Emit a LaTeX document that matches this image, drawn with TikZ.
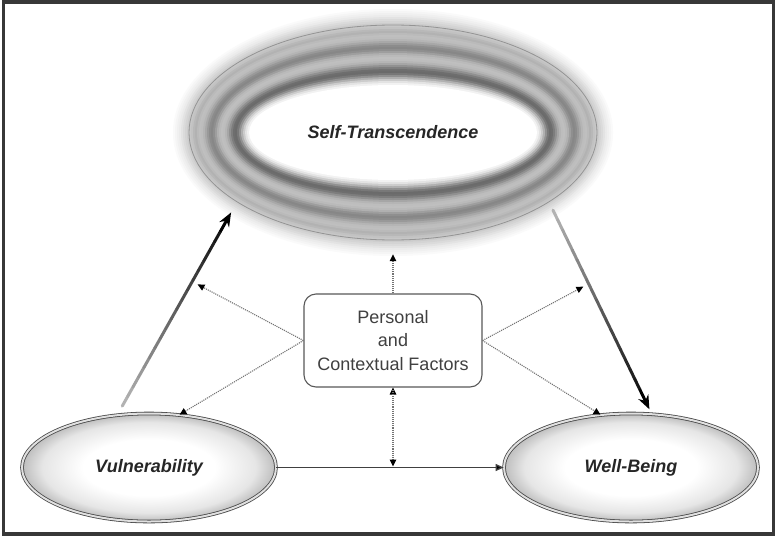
\documentclass[tikz,border=0pt]{standalone}
\usepackage{fontspec}
\setmainfont{Liberation Sans}
\usetikzlibrary{calc, arrows.meta, positioning, shapes}

\pgfdeclareradialshading{ovalshade}{\pgfpointorigin}{color(0bp)=(white); color(13bp)=(white); color(21bp)=(black!10); color(25bp)=(black!26); color(50bp)=(black!26)}

\begin{document}
\begin{tikzpicture}[x = 1pt, y = -1pt, >=latex, font = \fontsize{18}{23.5}\selectfont]
			\tikzstyle{oval} = [ellipse, draw=black!72, line width=0.8pt, double=black!12, double distance=2pt, shade, shading=ovalshade, minimum width=254pt, minimum height=108pt, text=black!85, font=\fontsize{18}{23.5}\selectfont\bfseries\itshape]
			\tikzstyle{factor} = [draw=black!65, line width=1.1pt, rounded corners=12pt, fill=white, minimum width=178pt, minimum height=93pt, align=center, text=black!75]
			\tikzstyle{dots} = [densely dotted, draw=black!55, line width=1.1pt, -{Triangle[length=7pt, width=6.5pt, color=black]}]
			\tikzstyle{thick arrow} = [line width=3pt, line cap=round]

			\useasboundingbox (0, 0) rectangle (775, 538);
			\fill[white] (0, 0) rectangle (775, 538);
			\draw[line width=3.5pt, black!78] (3.7, 2) rectangle (773.3, 533.8);

			% rings and glow round the top ellipse
			\foreach \d/\g in {-16/2, -14/4, -12/6, -10/8, -8/11, -6/14, -4/17, -2/20, 0/22, 2/24, 4/28, 6/30, 8/27, 10/25, 12/26, 14/29, 16/34, 18/40, 20/45, 22/47, 24/44, 26/38, 28/31, 30/27, 32/25, 34/26, 36/29, 38/35, 40/43, 42/51, 44/57, 46/58, 48/53, 50/43, 52/31, 54/20, 56/11, 58/5, 60/0}
				\fill[black!\g] (393, 132.5) ellipse [x radius = 204-(\d), y radius = 107.5-(\d)];
			\draw[black!42, line width=0.8pt] (393, 132.5) ellipse [x radius = 204, y radius = 107.5];

			\node[ellipse, minimum width=408pt, minimum height=215pt, text=black!85, font=\fontsize{18}{23.5}\selectfont\bfseries\itshape]
										at (393, 132.5)		(st)	{Self-Transcendence};
			\node[oval]					at (149, 467.5)		(vul)	{Vulnerability};
			\node[oval]					at (631, 467.5)		(wb)	{Well-Being};
			\node[factor]				at (393, 340.5)		(pcf)	{Personal\\and\\Contextual Factors};

			% thick arrows, light at the tail and black at the tip
			\coordinate (a1) at ($(vul.121)!10pt!(st.204)$);
			\coordinate (a2) at ($(st.204)!12pt!(vul.121)$);
			\coordinate (b1) at ($(st.336)!9pt!(wb.69)$);
			\coordinate (b2) at ($(wb.69)!5pt!(st.336)$);
			\foreach \i [evaluate = \i as \c using int(30+3.6*\i)] in {0,...,17} {
				\draw[thick arrow, black!\c] ($(a1)!\i/20!(a2)$) -- ($(a1)!\i/20+0.05!(a2)$);
				\draw[thick arrow, black!\c] ($(b1)!\i/20!(b2)$) -- ($(b1)!\i/20+0.05!(b2)$);
			}
			\draw[line width=3pt, -{Stealth[length=14pt, width=11pt]}] ($(a1)!0.9!(a2)$) -- (a2);
			\draw[line width=3pt, -{Stealth[length=14pt, width=11pt]}] ($(b1)!0.9!(b2)$) -- (b2);
			\coordinate (ml) at ($(a1)!0.643!(a2)$);
			\coordinate (mr) at ($(b1)!0.37!(b2)$);

			\path[->, draw=black!75, line width=1.3pt, -{Triangle[length=8pt, width=7pt]}]
			(vul)		edge						(wb);

			\path[dots]
			(pcf.north)	edge	[shorten >=14pt]	(st.south)
			(pcf.west)	edge	[shorten >=6pt]		(ml)
			(pcf.west)	edge						(vul.60)
			(pcf.east)	edge	[shorten >=6pt]		(mr)
			(pcf.east)	edge						(wb.120)
			(pcf.south)	edge	[shorten >=1pt]		(pcf.south |- vul.east);
		\end{tikzpicture}
\end{document}
